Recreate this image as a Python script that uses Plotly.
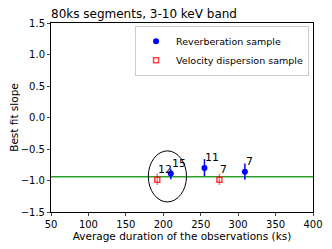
import plotly.graph_objects as go

# Data
rev_x = [210, 255, 309]
rev_y = [-0.89, -0.80, -0.86]
rev_err_plus = [0.07, 0.14, 0.13]
rev_err_minus = [0.09, 0.13, 0.13]
rev_labels = ["15", "11", "7"]

vel_x = [192, 275]
vel_y = [-0.99, -0.99]
vel_err_plus = [0.10, 0.10]
vel_err_minus = [0.08, 0.08]
vel_labels = ["12", "7"]

fit_slope = -0.94
ellipse_x = [180, 231]
ellipse_y = [-1.34, -0.53]

x_ticks = [50, 100, 150, 200, 250, 300, 350, 400]
y_ticks = [-1.5, -1.0, -0.5, 0.0, 0.5, 1.0, 1.5]

font = "DejaVu Sans"

# page body has an 8px margin; figure is sized so the plot lands at the reference spot
W, H = 324, 241

fig = go.Figure()

fig.add_trace(go.Scatter(
    x=rev_x, y=rev_y, mode="markers", name="Reverberation sample",
    marker=dict(color="blue", size=6, symbol="circle"),
    error_y=dict(type="data", array=rev_err_plus, arrayminus=rev_err_minus,
                 color="blue", thickness=1.5, width=0),
))
fig.add_trace(go.Scatter(
    x=vel_x, y=vel_y, mode="markers", name="Velocity dispersion sample",
    marker=dict(color="rgba(255,0,0,0.75)", size=5, symbol="square-open",
                line=dict(color="rgba(255,0,0,0.75)", width=1.5)),
    error_y=dict(type="data", array=vel_err_plus, arrayminus=vel_err_minus,
                 color="rgba(255,0,0,0.55)", thickness=1.5, width=0),
))

fig.add_shape(type="line", xref="paper", x0=0, x1=1, yref="y",
              y0=fit_slope, y1=fit_slope, line=dict(color="#2ca02c", width=1.5),
              layer="below")
fig.add_shape(type="circle", xref="x", yref="y",
              x0=ellipse_x[0], x1=ellipse_x[1], y0=ellipse_y[0], y1=ellipse_y[1],
              line=dict(color="black", width=1))

for xs, ys, labs in [(rev_x, rev_y, rev_labels), (vel_x, vel_y, vel_labels)]:
    for x, y, t in zip(xs, ys, labs):
        fig.add_annotation(x=x, y=y, text=t, showarrow=False,
                           xanchor="left", yanchor="bottom", xshift=-1, yshift=2,
                           font=dict(family=font, size=11, color="black"))

fig.update_layout(
    width=W, height=H,
    margin=dict(l=43, r=19, t=15, b=37, autoexpand=False),
    paper_bgcolor="white", plot_bgcolor="white",
    font=dict(family=font, size=10, color="black"),
    title=dict(text="80ks segments, 3-10 keV band", x=43/W, xanchor="left",
               y=1 - 6/H, yanchor="middle",
               font=dict(family=font, size=12, color="black")),
    showlegend=True,
    legend=dict(x=0.985, y=0.985, xanchor="right", yanchor="top",
                bgcolor="rgba(255,255,255,0.8)", bordercolor="#cccccc", borderwidth=1,
                font=dict(family=font, size=9.5), itemwidth=30,
                tracegroupgap=0),
)
fig.update_xaxes(range=[50, 400], tickvals=x_ticks, ticks="outside", ticklen=3,
                 showgrid=False, zeroline=False, showline=True, linecolor="black",
                 mirror=True, linewidth=1, automargin=False,
                 tickfont=dict(family=font, size=10),
                 title=dict(text="Average duration of the observations (ks)",
                            font=dict(family=font, size=10.5), standoff=1))
fig.update_yaxes(range=[-1.5, 1.5], tickvals=y_ticks, tickformat=".1f",
                 ticks="outside", ticklen=3, automargin=False,
                 showgrid=False, zeroline=False, showline=True, linecolor="black",
                 mirror=True, linewidth=1,
                 tickfont=dict(family=font, size=10),
                 title=dict(text="Best fit slope", font=dict(family=font, size=10.5),
                            standoff=2))

fig.write_html("out.html")
